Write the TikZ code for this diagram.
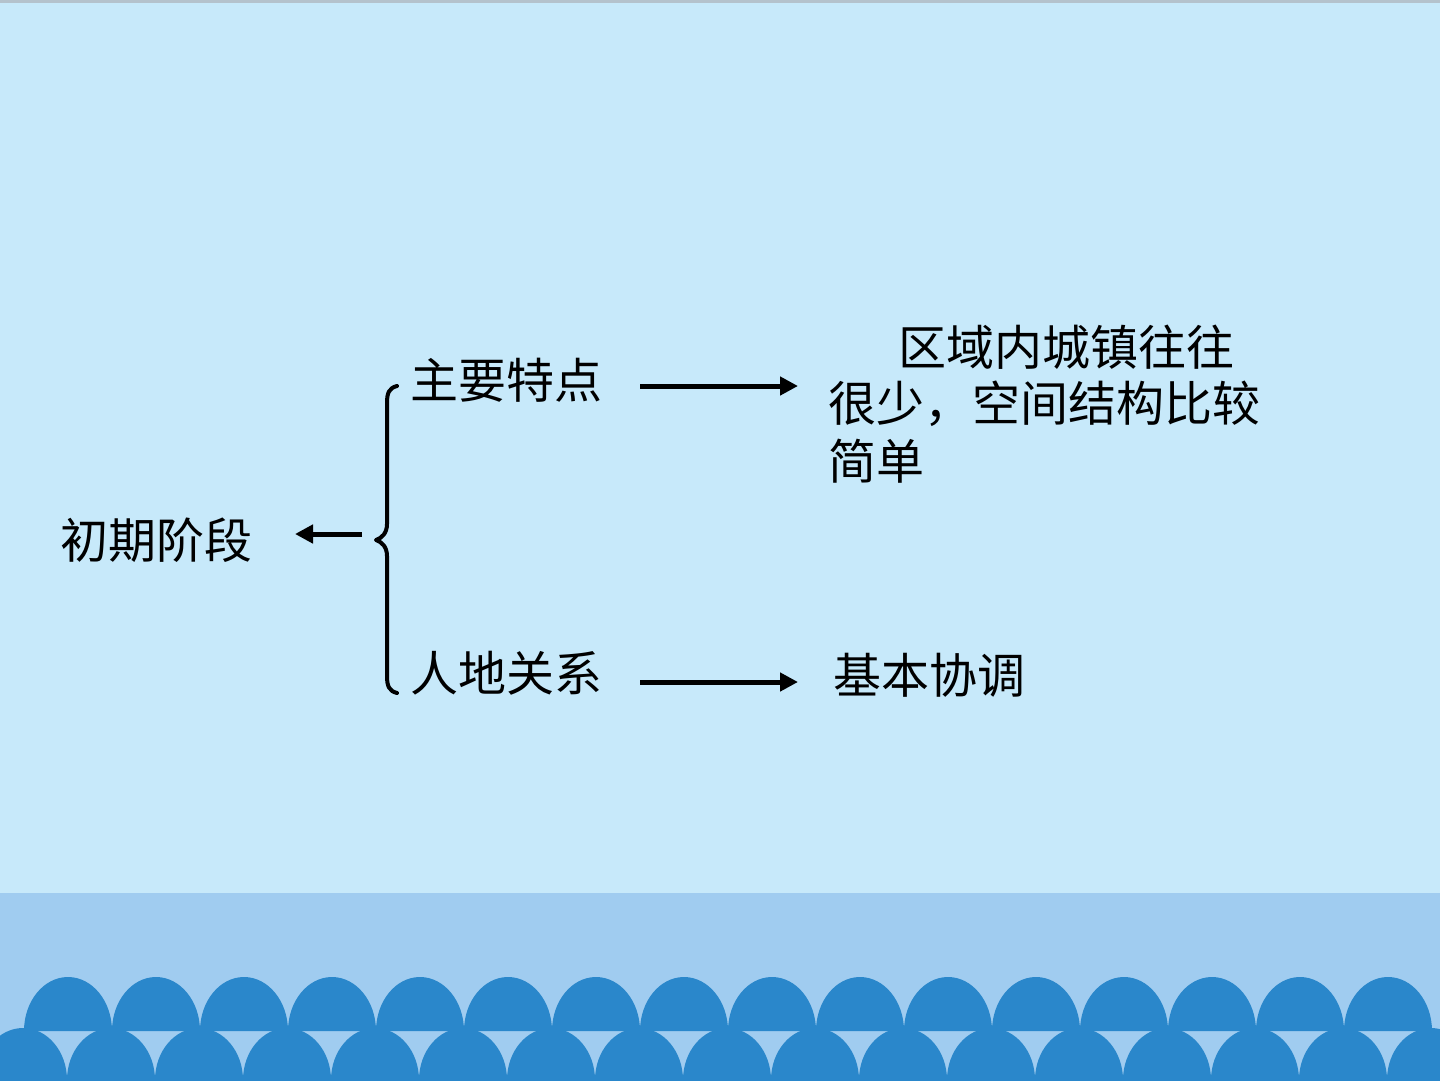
\documentclass[tikz,border=0pt]{standalone}
\usepackage{fontspec}
\newfontfamily\cjk{Noto Sans CJK SC}
\usetikzlibrary{arrows.meta}
\definecolor{bgtop}{HTML}{C7E9FA}
\definecolor{bgbot}{HTML}{A0CCF0}
\definecolor{dome}{HTML}{2A87CB}
\definecolor{edge}{HTML}{B4C2CC}
\begin{document}
\begin{tikzpicture}[x=1pt,y=-1pt,
  txt/.style={inner sep=0pt, anchor=west, font=\cjk\fontsize{48}{57}\selectfont},
  conn/.style={line width=5pt, -{Triangle[length=18pt,width=18pt]}},
  bracestyle/.style={line width=4pt, line cap=round, line join=round}]
\useasboundingbox (0,0) rectangle (1440,1080);
\clip (0,0) rectangle (1440,1080);
% background
\fill[bgtop] (0,0) rectangle (1440,893);
\fill[bgbot] (0,893) rectangle (1440,1080);
\fill[edge] (0,0) rectangle (1440,2.5);
% waves
\foreach \k in {0,...,16} \fill[dome] (23+88*\k,1080) ellipse[x radius=44, y radius=52];
\foreach \k in {0,...,15} \fill[dome] (24+88*\k,1031) arc[start angle=180,end angle=360,x radius=44,y radius=54] -- cycle;
% texts
\node[txt] (stage) at (60,540) {初期阶段};
\node[txt] (feat) at (410,380) {主要特点};
\node[txt] (rel) at (410,673) {人地关系};
\node[txt] (d1) at (898,347) {区域内城镇往往};
\node[txt] (d2) at (828,404) {很少，空间结构比较};
\node[txt] (d3) at (828,461) {简单};
\node[txt] (d4) at (833,675) {基本协调};
% coordinates
\coordinate (a1s) at (640,386);
\coordinate (a1e) at (798,386);
\coordinate (a2s) at (640,682);
\coordinate (a2e) at (798,682);
\coordinate (a0s) at (362,534);
\coordinate (a0e) at (295,534);
% brace
\draw[bracestyle] (397,386) .. controls (389,388) and (387,393) .. (387,403)
  -- (387,524) .. controls (387,533) and (382,538) .. (376,540)
  .. controls (382,542) and (387,547) .. (387,556)
  -- (387,676) .. controls (387,686) and (389,691) .. (397,693);
% arrows
\draw[conn] (a1s) -- (a1e);
\draw[conn] (a2s) -- (a2e);
\draw[conn] (a0s) -- (a0e);
\end{tikzpicture}
\end{document}
